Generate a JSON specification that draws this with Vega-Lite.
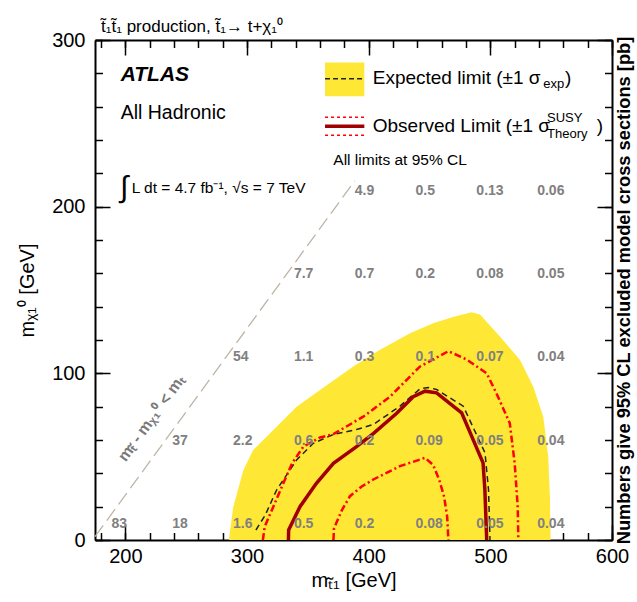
{
  "$schema": "https://vega.github.io/schema/vega-lite/v6.json",
  "width": 517,
  "height": 500,
  "autosize": {"type": "none"},
  "padding": {"left": 95, "top": 40, "right": 25, "bottom": 62},
  "title": {
    "text": "t̃₁t̃₁ production, t̃₁→ t+χ₁⁰",
    "anchor": "start",
    "frame": "group",
    "fontSize": 17,
    "fontWeight": "normal",
    "font": "Liberation Sans Narrow, Liberation Sans",
    "color": "black",
    "offset": -6,
    "dx": 6
  },
  "datasets": {
    "band": [
      {"x": 285, "y": 0}, {"x": 288.7, "y": 20}, {"x": 297, "y": 42}, {"x": 305, "y": 54},
      {"x": 321.6, "y": 66}, {"x": 340.7, "y": 80}, {"x": 360, "y": 90}, {"x": 387, "y": 104},
      {"x": 409, "y": 114}, {"x": 434, "y": 124}, {"x": 453, "y": 130}, {"x": 470, "y": 134},
      {"x": 484.6, "y": 136.7}, {"x": 491.5, "y": 135.3}, {"x": 508, "y": 122}, {"x": 524.4, "y": 108},
      {"x": 535.3, "y": 92}, {"x": 543.5, "y": 74}, {"x": 547.6, "y": 50}, {"x": 549, "y": 25},
      {"x": 549.5, "y": 0}
    ],
    "expected": [
      {"x": 307.3, "y": 6}, {"x": 315, "y": 15}, {"x": 324.3, "y": 30}, {"x": 340.7, "y": 48},
      {"x": 354.4, "y": 58}, {"x": 370.9, "y": 63.3}, {"x": 390, "y": 66.3}, {"x": 403.8, "y": 69.3},
      {"x": 425.7, "y": 80.3}, {"x": 442.2, "y": 90.7}, {"x": 449, "y": 91.5}, {"x": 455.8, "y": 90.3},
      {"x": 477.7, "y": 80.3}, {"x": 495.6, "y": 52.3}, {"x": 498.5, "y": 30}, {"x": 499.7, "y": 0}
    ],
    "observed": [
      {"x": 334, "y": 0}, {"x": 334.2, "y": 6}, {"x": 343.5, "y": 20}, {"x": 357, "y": 34},
      {"x": 371, "y": 46}, {"x": 390, "y": 56}, {"x": 404, "y": 64}, {"x": 423, "y": 76},
      {"x": 436.6, "y": 86}, {"x": 446.3, "y": 89.3}, {"x": 455.8, "y": 88.3}, {"x": 476.4, "y": 76.3},
      {"x": 494, "y": 46.3}, {"x": 495.5, "y": 30}, {"x": 497, "y": 0}
    ],
    "obsUp": [
      {"x": 313, "y": 0}, {"x": 314.5, "y": 8}, {"x": 321.6, "y": 20}, {"x": 329.8, "y": 34},
      {"x": 337, "y": 46}, {"x": 346.3, "y": 56}, {"x": 360, "y": 61.5}, {"x": 370.9, "y": 63.5},
      {"x": 395.5, "y": 74}, {"x": 417.5, "y": 86}, {"x": 442, "y": 104}, {"x": 465.5, "y": 113.3},
      {"x": 480.5, "y": 108.3}, {"x": 497, "y": 100}, {"x": 505, "y": 88}, {"x": 516, "y": 70},
      {"x": 520, "y": 46}, {"x": 522.5, "y": 20}, {"x": 523, "y": 0}
    ],
    "obsDown": [
      {"x": 371, "y": 0}, {"x": 371.5, "y": 7}, {"x": 378, "y": 18}, {"x": 384.6, "y": 26.3},
      {"x": 394, "y": 32}, {"x": 403.8, "y": 36.3}, {"x": 425.7, "y": 44.3}, {"x": 446.3, "y": 49.3},
      {"x": 453, "y": 45}, {"x": 458, "y": 36}, {"x": 462, "y": 26}, {"x": 464.5, "y": 14},
      {"x": 465.5, "y": 0}
    ],
    "diag": [{"x": 175, "y": 2}, {"x": 388.5, "y": 215.5}],
    "numbers": [
      {"x": 200, "y": 0, "t": "83"}, {"x": 250, "y": 0, "t": "18"}, {"x": 300, "y": 0, "t": "1.6"},
      {"x": 350, "y": 0, "t": "0.5"}, {"x": 400, "y": 0, "t": "0.2"}, {"x": 450, "y": 0, "t": "0.08"},
      {"x": 500, "y": 0, "t": "0.05"}, {"x": 550, "y": 0, "t": "0.04"},
      {"x": 250, "y": 50, "t": "37"}, {"x": 300, "y": 50, "t": "2.2"}, {"x": 350, "y": 50, "t": "0.6"},
      {"x": 400, "y": 50, "t": "0.2"}, {"x": 450, "y": 50, "t": "0.09"}, {"x": 500, "y": 50, "t": "0.05"},
      {"x": 550, "y": 50, "t": "0.04"},
      {"x": 300, "y": 100, "t": "54"}, {"x": 350, "y": 100, "t": "1.1"}, {"x": 400, "y": 100, "t": "0.3"},
      {"x": 450, "y": 100, "t": "0.1"}, {"x": 500, "y": 100, "t": "0.07"}, {"x": 550, "y": 100, "t": "0.04"},
      {"x": 350, "y": 150, "t": "7.7"}, {"x": 400, "y": 150, "t": "0.7"}, {"x": 450, "y": 150, "t": "0.2"},
      {"x": 500, "y": 150, "t": "0.08"}, {"x": 550, "y": 150, "t": "0.05"},
      {"x": 400, "y": 200, "t": "4.9"}, {"x": 450, "y": 200, "t": "0.5"}, {"x": 500, "y": 200, "t": "0.13"},
      {"x": 550, "y": 200, "t": "0.06"}
    ]
  },
  "encoding": {
    "x": {"field": "x", "type": "quantitative", "scale": {"domain": [175, 600], "nice": false, "zero": false}, "axis": null},
    "y": {"field": "y", "type": "quantitative", "scale": {"domain": [0, 300], "nice": false, "zero": false}, "axis": null}
  },
  "layer": [
    {
      "data": {"name": "band"},
      "mark": {"type": "area", "color": "#ffe735"},
      "encoding": {
        "x": {"field": "x", "type": "quantitative", "scale": {"domain": [175, 600], "nice": false, "zero": false},
          "axis": {"orient": "bottom", "values": [200, 300, 400, 500, 600], "tickSize": -15, "labelPadding": 21,
            "title": "mₜ̃₁ [GeV]", "titlePadding": 4}},
        "y": {"field": "y", "type": "quantitative", "scale": {"domain": [0, 300], "nice": false, "zero": false},
          "axis": {"orient": "left", "values": [0, 100, 200, 300], "tickSize": -15, "labelPadding": 25,
            "title": "mᵪ₁⁰ [GeV]", "titlePadding": 14}}
      }
    },
    {
      "data": {"name": "expected"},
      "mark": {"type": "line", "color": "#222222", "strokeWidth": 1.5, "strokeDash": [6, 4]},
      "encoding": {
        "x": {"field": "x", "type": "quantitative", "scale": {"domain": [175, 600], "nice": false, "zero": false},
          "axis": {"orient": "bottom", "values": [180, 200, 220, 240, 260, 280, 300, 320, 340, 360, 380, 400, 420, 440, 460, 480, 500, 520, 540, 560, 580, 600],
            "tickSize": -7.5, "labels": false, "domain": false, "title": null}},
        "y": {"field": "y", "type": "quantitative", "scale": {"domain": [0, 300], "nice": false, "zero": false},
          "axis": {"orient": "left", "values": [0, 20, 40, 60, 80, 100, 120, 140, 160, 180, 200, 220, 240, 260, 280, 300],
            "tickSize": -7.5, "labels": false, "domain": false, "title": null}}
      }
    },
    {
      "data": {"name": "observed"},
      "mark": {"type": "line", "color": "#a00000", "strokeWidth": 3.5},
      "encoding": {
        "x": {"field": "x", "type": "quantitative", "scale": {"domain": [175, 600], "nice": false, "zero": false},
          "axis": {"orient": "top", "values": [200, 300, 400, 500, 600], "tickSize": -15, "labels": false, "title": null}},
        "y": {"field": "y", "type": "quantitative", "scale": {"domain": [0, 300], "nice": false, "zero": false},
          "axis": {"orient": "right", "values": [0, 100, 200, 300], "tickSize": -15, "labels": false,
            "title": "Numbers give 95% CL excluded model cross sections [pb]", "titleAngle": 270,
            "titleFontWeight": "bold", "titleFontSize": 18.3, "titlePadding": 21}}
      }
    },
    {
      "data": {"name": "obsUp"},
      "mark": {"type": "line", "color": "#ff0000", "strokeWidth": 2.5, "strokeDash": [7, 3, 2, 3]},
      "encoding": {
        "x": {"field": "x", "type": "quantitative", "scale": {"domain": [175, 600], "nice": false, "zero": false},
          "axis": {"orient": "top", "values": [180, 200, 220, 240, 260, 280, 300, 320, 340, 360, 380, 400, 420, 440, 460, 480, 500, 520, 540, 560, 580, 600],
            "tickSize": -7.5, "labels": false, "domain": false, "title": null}},
        "y": {"field": "y", "type": "quantitative", "scale": {"domain": [0, 300], "nice": false, "zero": false},
          "axis": {"orient": "right", "values": [0, 20, 40, 60, 80, 100, 120, 140, 160, 180, 200, 220, 240, 260, 280, 300],
            "tickSize": -7.5, "labels": false, "domain": false, "title": null}}
      }
    },
    {
      "data": {"name": "obsDown"},
      "mark": {"type": "line", "color": "#ff0000", "strokeWidth": 2.5, "strokeDash": [7, 3, 2, 3]}
    },
    {
      "data": {"name": "diag"},
      "mark": {"type": "line", "color": "#bdb5a6", "strokeWidth": 1.3, "strokeDash": [14, 6]}
    },
    {
      "data": {"name": "numbers"},
      "mark": {"type": "text", "align": "left", "baseline": "middle", "dx": -14, "dy": -16, "fontSize": 14, "fontWeight": "bold", "color": "#808080"},
      "encoding": {"text": {"field": "t"}}
    },
    {
      "data": {"values": [{"x": 221.5, "y": 73, "t": "mₜ̃ - mᵪ₁⁰ < mₜ"}]},
      "mark": {"type": "text", "align": "center", "baseline": "middle", "angle": -54, "fontSize": 16, "fontWeight": "bold", "color": "#7a7a7a"},
      "encoding": {"text": {"field": "t"}}
    },
    {
      "data": {"values": [{"x": 364.1, "x2": 396.4, "y": 266.3, "y2": 286.5}]},
      "mark": {"type": "rect", "color": "#ffe735"},
      "encoding": {"x2": {"field": "x2"}, "y2": {"field": "y2"}}
    },
    {
      "data": {"values": [{"x": 364.1, "x2": 396.4, "y": 276.7}]},
      "mark": {"type": "rule", "color": "#222222", "strokeWidth": 1.5, "strokeDash": [5, 3]},
      "encoding": {"x2": {"field": "x2"}}
    },
    {
      "data": {"values": [{"x": 364.1, "x2": 396.4, "y": 248.3}]},
      "mark": {"type": "rule", "color": "#a00000", "strokeWidth": 3.5},
      "encoding": {"x2": {"field": "x2"}}
    },
    {
      "data": {"values": [{"x": 364.1, "x2": 396.4, "y": 253.7}, {"x": 364.1, "x2": 396.4, "y": 242.9}]},
      "mark": {"type": "rule", "color": "#ff0000", "strokeWidth": 1.5, "strokeDash": [3, 3]},
      "encoding": {"x2": {"field": "x2"}}
    },
    {
      "data": {"values": [{"x": 196.1, "y": 279.3, "t": "ATLAS"}]},
      "mark": {"type": "text", "align": "left", "baseline": "middle", "fontSize": 21, "fontWeight": "bold", "fontStyle": "italic", "color": "black"},
      "encoding": {"text": {"field": "t"}}
    },
    {
      "data": {"values": [{"x": 196.1, "y": 256.3, "t": "All Hadronic"}]},
      "mark": {"type": "text", "align": "left", "baseline": "middle", "fontSize": 19.5, "color": "black"},
      "encoding": {"text": {"field": "t"}}
    },
    {
      "data": {"values": [{"x": 195.6, "y": 211.5, "t": "∫"}]},
      "mark": {"type": "text", "align": "left", "baseline": "middle", "fontSize": 30, "color": "black"},
      "encoding": {"text": {"field": "t"}}
    },
    {
      "data": {"values": [{"x": 205.2, "y": 211.5, "t": "L dt = 4.7 fb⁻¹, √s = 7 TeV"}, {"x": 370.9, "y": 228.3, "t": "All limits at 95% CL"}]},
      "mark": {"type": "text", "align": "left", "baseline": "middle", "fontSize": 15.5, "color": "black"},
      "encoding": {"text": {"field": "t"}}
    },
    {
      "data": {"values": [{"x": 403.3, "y": 277.5, "t": "Expected limit (±1 σ"}, {"x": 403.3, "y": 248.7, "t": "Observed Limit (±1 σ"}, {"x": 561.3, "y": 277.5, "t": ")"}, {"x": 587.4, "y": 248.7, "t": ")"}]},
      "mark": {"type": "text", "align": "left", "baseline": "middle", "fontSize": 19, "color": "black"},
      "encoding": {"text": {"field": "t"}}
    },
    {
      "data": {"values": [{"x": 543.5, "y": 273.9, "t": "exp"}, {"x": 546.6, "y": 253.3, "t": "SUSY"}, {"x": 546.6, "y": 243.9, "t": "Theory"}]},
      "mark": {"type": "text", "align": "left", "baseline": "middle", "fontSize": 13, "color": "black"},
      "encoding": {"text": {"field": "t"}}
    }
  ],
  "resolve": {"axis": {"x": "independent", "y": "independent"}},
  "config": {
    "font": "Liberation Sans",
    "view": {"stroke": null},
    "text": {"font": "Liberation Sans"},
    "axis": {
      "grid": false,
      "zindex": 1,
      "domainColor": "black",
      "domainWidth": 2,
      "tickColor": "black",
      "tickWidth": 1.5,
      "labelFont": "Liberation Sans",
      "labelFontSize": 20,
      "labelColor": "black",
      "labelFlush": false,
      "labelOverlap": false,
      "titleFont": "Liberation Sans",
      "titleFontSize": 20,
      "titleFontWeight": "normal",
      "titleColor": "black"
    }
  }
}
